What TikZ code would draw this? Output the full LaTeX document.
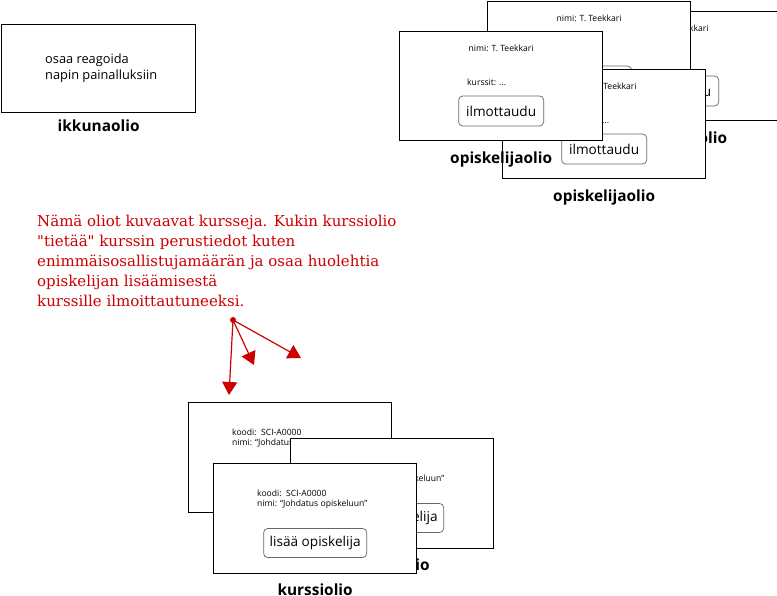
\documentclass[tikz,border=0pt]{standalone}
\usepackage{fontspec}
\setmainfont{Open Sans}
\newfontfamily\huomfont{DejaVu Serif}
\usetikzlibrary{calc}
\usetikzlibrary{positioning}
\usetikzlibrary{arrows.meta}
\definecolor{huomio}{RGB}{204,0,0}

\begin{document}
\begin{tikzpicture}[
		x=1pt, y=-1pt,
		every node/.append style={scale=1},
		olio/.style={
			draw=black,
			fill=white,
			line width=1.3pt,
			rectangle,
			anchor=north west,
			inner sep=0pt,
			minimum width=203pt,
			minimum height=109pt},
		nappi/.style={
			draw=black!60,
			fill=white,
			line width=0.7pt,
			rounded corners=4pt,
			rectangle,
			inner sep=0pt,
			font=\fontsize{13.6}{15}\selectfont},
		pieni/.style={
			inner sep=0pt,
			font=\fontsize{8.6}{10}\selectfont},
		otsikko/.style={
			inner sep=0pt,
			anchor=base,
			font=\fontsize{15.4}{17}\selectfont\bfseries},
		huom/.style={
			text=huomio,
			inner sep=0pt,
			align=left,
			font=\fontsize{15}{20}\selectfont\huomfont},
		nuoli/.style={
			draw=huomio,
			line width=1.2pt,
			-{Triangle[length=13pt,width=15pt]}},
		]
		\useasboundingbox (0,0) rectangle (777,596);

		%Ikkunaolio
		\node (ikkuna)[olio, minimum width=194pt, minimum height=88pt] at (1,24) {};
		\node (ikkuna_teksti)[anchor=west, align=left, inner sep=0pt, font=\fontsize{12.8}{16}\selectfont] at ($(ikkuna.west)+(44,0)$) {osaa reagoida\\napin painalluksiin};
		\node (ikkuna_nimi)[otsikko] at ($(ikkuna.south)+(0,18)$) {ikkunaolio};

		%Opiskelijaoliot
		\foreach \olio/\x/\y in {opisk_c/574/11, opisk_a/487/1, opisk_b/502/69, opisk_etu/399/31}{
			\node (\olio)[olio] at (\x,\y) {};
			\node (\olio_nimi)[pieni] at ($(\olio.north)+(0,17)$) {nimi: T. Teekkari};
			\node (\olio_kurssit)[pieni, anchor=west] at ($(\olio.north west)+(68,51)$) {kurssit: ...};
			\node (\olio_nappi)[nappi, minimum width=85pt, minimum height=30pt] at ($(\olio.north)+(0,80)$) {ilmottaudu};
			\node (\olio_otsikko)[otsikko] at ($(\olio.south)+(0,22)$) {opiskelijaolio};
		}

		%Huomautus
		\node (huomautus)[huom, anchor=north west] at (37,215) {Nämä oliot kuvaavat kursseja. Kukin kurssiolio\\"tietää" kurssin perustiedot kuten\\enimmäisosallistujamäärän ja osaa huolehtia\\opiskelijan lisäämisestä\\kurssille ilmoittautuneeksi.};
		\node (piste)[circle, fill=huomio, inner sep=0pt, minimum size=6pt] at (233,320) {};
		\coordinate (kurssi_kohde_a) at (229,395);
		\coordinate (kurssi_kohde_b) at (254,365);
		\coordinate (kurssi_kohde_c) at (301,358);
		\foreach \kohde in {a,b,c}{
			\draw[nuoli] (piste.center) -- (kurssi_kohde_\kohde);
		}

		%Kurssioliot
		\foreach \olio/\x/\y in {kurssi_a/188/402, kurssi_b/290/438, kurssi_etu/213/463}{
			\node (\olio)[olio, minimum height=110pt] at (\x,\y) {};
			\node (\olio_koodi)[pieni, anchor=west] at ($(\olio.north west)+(44,30)$) {koodi:\ \ SCI-A0000};
			\node (\olio_nimi)[pieni, anchor=west] at ($(\olio.north west)+(44,41)$) {nimi: “Johdatus opiskeluun”};
			\node (\olio_nappi)[nappi, minimum width=103pt, minimum height=29pt] at ($(\olio.north)+(0,80)$) {lisää opiskelija};
			\node (\olio_otsikko)[otsikko] at ($(\olio.south)+(0,21)$) {kurssiolio};
		}

	\end{tikzpicture}
\end{document}
